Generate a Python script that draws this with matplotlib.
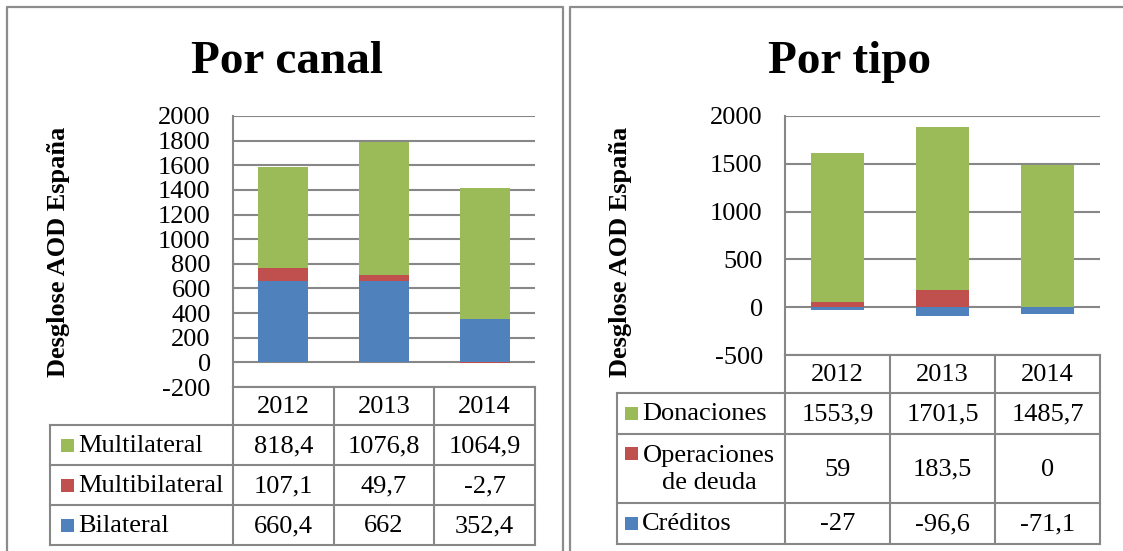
import matplotlib
matplotlib.use('Agg')
import matplotlib.pyplot as plt
from matplotlib.patches import Rectangle
import numpy as np

plt.rcParams['font.family'] = ['Liberation Serif', 'DejaVu Serif']
plt.rcParams['axes.unicode_minus'] = False

years = ['2012', '2013', '2014']

# Por canal (table rows top-down, bars stack bottom-up in reverse)
canal_names = ['Multilateral', 'Multibilateral', 'Bilateral']
multilateral = [818.4, 1076.8, 1064.9]
multibilateral = [107.1, 49.7, -2.7]
bilateral = [660.4, 662, 352.4]

# Por tipo
tipo_names = ['Donaciones', 'Operaciones\nde deuda', 'Créditos']
donaciones = [1553.9, 1701.5, 1485.7]
operaciones = [59, 183.5, 0]
creditos = [-27, -96.6, -71.1]

colors = ['#9BBB59', '#C0504D', '#4F81BD']
grey = '#878787'
fs = 19
serif = 'Liberation Serif'

W, H = 1123, 551
fig = plt.figure(figsize=(W / 100, H / 100), dpi=100)


def box(x0, y0, x1, y1):
    return [x0 / W, 1 - y1 / H, (x1 - x0) / W, (y1 - y0) / H]


def stacked(ax, series, cols):
    x = np.arange(len(years))
    pos = np.zeros(len(years))
    neg = np.zeros(len(years))
    for vals, c in zip(series, cols):
        v = np.array(vals, float)
        bottom = np.where(v >= 0, pos, neg)
        ax.bar(x, v, 0.5, bottom=bottom, color=c, zorder=3)
        pos = pos + np.clip(v, 0, None)
        neg = neg + np.clip(v, None, 0)


def setup(ax, ymin, ymax, step):
    ax.set_xlim(-0.5, len(years) - 0.5)
    ax.set_ylim(ymin, ymax)
    ax.set_yticks(np.arange(ymin, ymax + 1, step))
    ax.yaxis.grid(True, color=grey, lw=1.5)
    ax.set_axisbelow(True)
    ax.set_xticks([])
    for s in ['top', 'right', 'bottom']:
        ax.spines[s].set_visible(False)
    ax.spines['left'].set_color(grey)
    ax.spines['left'].set_linewidth(1.5)
    ax.tick_params(axis='y', length=0, pad=16, labelsize=fs)
    for t in ax.get_yticklabels():
        t.set_family(serif)
    ax.patch.set_alpha(0)


def fmt(v):
    return f'{v:g}'.replace('.', ',')


# left chart
ax1 = fig.add_axes(box(233, 116, 535, 387))
stacked(ax1, [bilateral, multibilateral, multilateral], colors[::-1])
setup(ax1, -200, 2000, 200)

# right chart
ax2 = fig.add_axes(box(785, 116, 1100, 355))
stacked(ax2, [creditos, operaciones, donaciones], colors[::-1])
setup(ax2, -500, 2000, 500)

# overlay in pixel coordinates for borders, titles and tables
ov = fig.add_axes([0, 0, 1, 1], zorder=-1)
ov.set_xlim(0, W)
ov.set_ylim(H, 0)
ov.axis('off')

lk = dict(color=grey, lw=1.5, solid_capstyle='projecting')
# panel borders
ov.plot([7, 7, 563, 563], [H, 7, 7, H], color='#8c8c8c', lw=1.6)
ov.plot([570, 570, W], [H, 7, 7], color='#8c8c8c', lw=1.6)

ov.text(287, 73, 'Por canal', ha='center', va='baseline', fontsize=34,
        fontweight='bold', family=serif)
ov.text(850, 73, 'Por tipo', ha='center', va='baseline', fontsize=34,
        fontweight='bold', family=serif)
ov.text(59, 252, 'Desglose AOD España', rotation=90, ha='center', va='center',
        fontsize=19, fontweight='bold', family=serif)
ov.text(621, 252, 'Desglose AOD España', rotation=90, ha='center', va='center',
        fontsize=19, fontweight='bold', family=serif)


def table(left, x0, x1, rows, names, data, sq_x):
    edges = np.linspace(x0, x1, len(years) + 1)
    # vertical lines
    for e in edges:
        ov.plot([e, e], [rows[0], rows[-1]], **lk)
    ov.plot([left, left], [rows[1], rows[-1]], **lk)
    ov.plot([x0, x1], [rows[0], rows[0]], **lk)
    for r in rows[1:]:
        ov.plot([left, x1], [r, r], **lk)
    centers = (edges[:-1] + edges[1:]) / 2
    for cx, y in zip(centers, years):
        ov.text(cx, (rows[0] + rows[1]) / 2 + 1, y, ha='center', va='center',
                fontsize=fs, family=serif)
    for i, (name, vals, c) in enumerate(zip(names, data, colors)):
        cy = (rows[i + 1] + rows[i + 2]) / 2 + 1
        if '\n' in name:
            sy = cy - 16
            ov.text(sq_x + 84, cy, name, ha='center', va='center', fontsize=fs,
                    linespacing=1.3, multialignment='center', family=serif)
        else:
            sy = cy - 1
            ov.text(sq_x + 17, cy, name, ha='left', va='center', fontsize=fs,
                    family=serif)
        ov.add_patch(Rectangle((sq_x, sy - 6.5), 13, 13, color=c, lw=0))
        for cx, v in zip(centers, vals):
            ov.text(cx, cy, fmt(v), ha='center', va='center', fontsize=fs,
                    family=serif)


table(50, 233, 535, [387, 425, 465, 505, 545], canal_names,
      [multilateral, multibilateral, bilateral], 61)
table(617, 785, 1100, [355, 393, 434, 503, 544], tipo_names,
      [donaciones, operaciones, creditos], 625)

fig.savefig('out.png', dpi=100)
